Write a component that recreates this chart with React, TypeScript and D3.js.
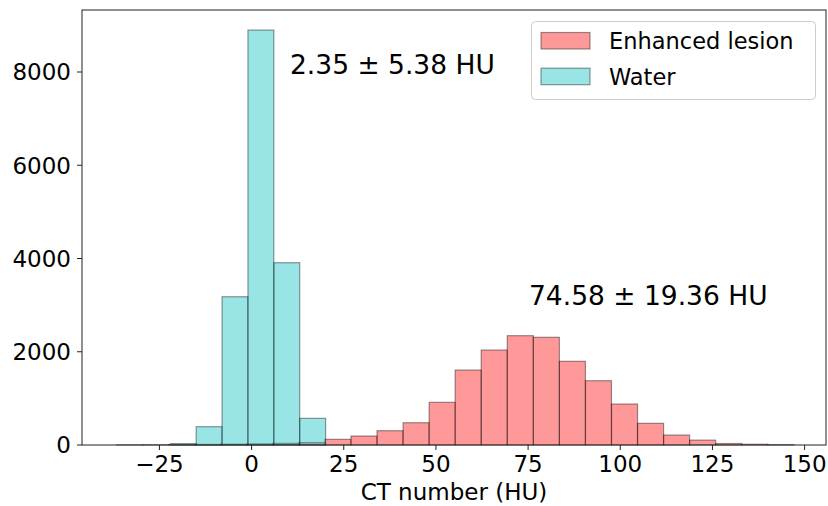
import React from "react";
import * as d3 from "d3";

// Histogram bin layout (HU) and counts per bin
const lesionStart = -36.64;
const lesionBinWidth = 7.066;
const lesionCounts = [3, 5, 8, 12, 18, 25, 35, 52, 122, 193, 307, 478, 915, 1608, 2037, 2345, 2310, 1795, 1379, 879, 465, 214, 105, 32, 17, 9];

const waterStart = -22.05;
const waterBinWidth = 7.02;
const waterCounts = [30, 393, 3180, 8900, 3910, 572];

const xTicks = [-25, 0, 25, 50, 75, 100, 125, 150];
const yTicks = [0, 2000, 4000, 6000, 8000];

const seriesNames = ["Enhanced lesion", "Water"];
const lesionLabel = "74.58 ± 19.36 HU";
const waterLabel = "2.35 ± 5.38 HU";

const W = 828;
const H = 506;
const margin = { left: 82, right: 2, top: 10, bottom: 61 };
const FONT = "DejaVu Sans, sans-serif";

const LESION_FILL = "rgb(255,0,0)";
const WATER_FILL = "rgb(0,191,191)";

function toBins(start: number, width: number, counts: number[]) {
  return counts.map((c, i) => ({ x0: start + i * width, x1: start + (i + 1) * width, count: c }));
}

export default function App() {
  const x = d3.scaleLinear().domain([-46, 155.8]).range([margin.left, W - margin.right]);
  const y = d3.scaleLinear().domain([0, 9330]).range([H - margin.bottom, margin.top]);

  const lesionBins = toBins(lesionStart, lesionBinWidth, lesionCounts);
  const waterBins = toBins(waterStart, waterBinWidth, waterCounts);

  const x0 = margin.left;
  const x1 = W - margin.right;
  const y0 = H - margin.bottom;
  const y1 = margin.top;

  const bars = (bins: { x0: number; x1: number; count: number }[], fill: string, key: string) =>
    bins.map((b, i) => (
      <rect
        key={`${key}-${i}`}
        x={x(b.x0)}
        y={y(b.count)}
        width={x(b.x1) - x(b.x0)}
        height={y(0) - y(b.count)}
        fill={fill}
        fillOpacity={0.4}
        stroke="#000"
        strokeOpacity={0.4}
        strokeWidth={1.2}
      />
    ));

  return (
    <svg
      width={W}
      height={H}
      style={{ position: "absolute", left: 0, top: 0, background: "#fff" }}
      fontFamily={FONT}
    >
      <rect x={0} y={0} width={W} height={H} fill="#fff" />
      <g>{bars(lesionBins, LESION_FILL, "lesion")}</g>
      <g>{bars(waterBins, WATER_FILL, "water")}</g>

      {/* frame */}
      <rect x={x0} y={y1} width={x1 - x0} height={y0 - y1} fill="none" stroke="#222" strokeWidth={1} />

      {/* x axis */}
      {xTicks.map((t) => (
        <g key={`xt${t}`}>
          <line x1={x(t)} x2={x(t)} y1={y0} y2={y0 + 5} stroke="#222" strokeWidth={1} />
          <text x={x(t)} y={472} fontSize={23} textAnchor="middle" fill="#000">
            {t < 0 ? `\u2212${Math.abs(t)}` : t}
          </text>
        </g>
      ))}
      <text x={(x0 + x1) / 2} y={500} fontSize={23} textAnchor="middle" fill="#000">
        CT number (HU)
      </text>

      {/* y axis */}
      {yTicks.map((t) => (
        <g key={`yt${t}`}>
          <line x1={x0 - 5} x2={x0} y1={y(t)} y2={y(t)} stroke="#222" strokeWidth={1} />
          <text x={71} y={y(t)} dy="0.36em" fontSize={23} textAnchor="end" fill="#000">
            {t}
          </text>
        </g>
      ))}

      {/* annotations */}
      <text x={290} y={74} fontSize={26.5} fill="#000">
        {waterLabel}
      </text>
      <text x={529} y={305} fontSize={26.5} fill="#000">
        {lesionLabel}
      </text>

      {/* legend */}
      <g>
        <rect x={531.5} y={21.5} width={284} height={78} rx={4} fill="#fff" fillOpacity={0.8} stroke="#ccc" strokeWidth={1} />
        {seriesNames.map((name, i) => {
          const fill = i === 0 ? LESION_FILL : WATER_FILL;
          const rowY = 32.5 + i * 35.7;
          return (
            <g key={name}>
              <rect x={541} y={rowY} width={49} height={16.5} fill={fill} fillOpacity={0.4} stroke="#000" strokeOpacity={0.4} strokeWidth={1.2} />
              <text x={609} y={rowY + 16.8} fontSize={22.5} fill="#000">
                {name}
              </text>
            </g>
          );
        })}
      </g>
    </svg>
  );
}
